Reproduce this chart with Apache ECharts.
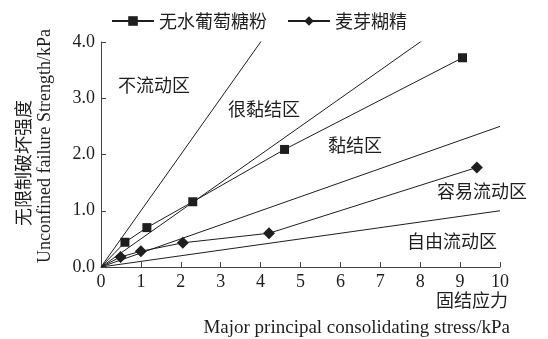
<!DOCTYPE html>
<html>
<head>
<meta charset="utf-8">
<script src="https://cdn.jsdelivr.net/npm/echarts@6/dist/echarts.min.js"></script>
<style>
  html, body { margin: 0; padding: 0; background: #fff; }
  #chart { width: 548px; height: 339px; }
</style>
</head>
<body>
<div id="chart"></div>
<script>
// Consolidating stress (kPa) vs. unconfined failure strength (kPa)
var glucoseName = '无水葡萄糖粉';
var glucoseX = [0, 0.60, 1.15, 2.30, 4.60, 9.06];
var glucoseY = [0, 0.44, 0.70, 1.16, 2.09, 3.72];

var maltoName = '麦芽糊精';
var maltoX = [0, 0.49, 1.00, 2.05, 4.21, 9.42];
var maltoY = [0, 0.18, 0.28, 0.43, 0.60, 1.77];

// Flow-function boundary lines (ff = 1, 2, 4, 10), end points from the origin
var boundaryEndX = [4.08, 8.16, 10, 10];
var boundaryEndY = [4.08, 4.08, 2.5, 1.0];

// Flowability region names
var regionNames = ['不流动区', '很黏结区', '黏结区', '容易流动区', '自由流动区'];

var xTicks = [0, 1, 2, 3, 4, 5, 6, 7, 8, 9, 10];
var yTicks = ['0.0', '1.0', '2.0', '3.0', '4.0'];

// The origin point only anchors the curve, so it gets no marker
function pairs(xs, ys) {
  return xs.map(function (x, i) {
    var item = { value: [x, ys[i]] };
    if (x === 0 && ys[i] === 0) item.symbol = 'none';
    return item;
  });
}

var ink = '#1e1e1e';
var serif = '"Liberation Serif", "DejaVu Serif", serif';
var cjk = '"Noto Sans CJK SC", sans-serif';

var series = [
  {
    name: glucoseName, type: 'line', data: pairs(glucoseX, glucoseY),
    symbol: 'rect', symbolSize: 9, showAllSymbol: true,
    lineStyle: { color: ink, width: 1 }, itemStyle: { color: ink },
    z: 5, animation: false
  },
  {
    name: maltoName, type: 'line', data: pairs(maltoX, maltoY),
    symbol: 'diamond', symbolSize: 12, showAllSymbol: true,
    lineStyle: { color: ink, width: 1 }, itemStyle: { color: ink },
    z: 5, animation: false
  }
];

boundaryEndX.forEach(function (ex, i) {
  series.push({
    type: 'line', data: [[0, 0], [ex, boundaryEndY[i]]],
    symbol: 'none', lineStyle: { color: ink, width: 1 },
    silent: true, animation: false, z: 3
  });
});

// Region label placement (pixels)
var regionPos = [[118, 76], [228, 100], [328, 136], [437, 182], [407, 232]];

var graphics = regionNames.map(function (t, i) {
  return {
    type: 'text', left: regionPos[i][0], top: regionPos[i][1],
    style: { text: t, font: '18px ' + cjk, fill: ink }
  };
});

graphics.push(
  { type: 'text', right: 40, top: 291,
    style: { text: '固结应力', font: '18px ' + cjk, fill: ink } },
  { type: 'text', right: 38, top: 319,
    style: { text: 'Major principal consolidating stress/kPa', font: '19px ' + serif, fill: ink } },
  { type: 'text', x: 14, y: 226, rotation: Math.PI / 2,
    style: { text: '无限制破坏强度', font: '18px ' + cjk, fill: ink } },
  { type: 'text', x: 36, y: 263, rotation: Math.PI / 2,
    style: { text: 'Unconfined failure Strength/kPa', font: '18px ' + serif, fill: ink } }
);

var chart = echarts.init(document.getElementById('chart'), null, { renderer: 'canvas' });
chart.setOption({
  animation: false,
  backgroundColor: '#fff',
  grid: { left: 101, right: 48, top: 42, bottom: 72, containLabel: false },
  legend: {
    data: [glucoseName, maltoName],
    left: 111, top: 12, padding: 0,
    itemWidth: 42, itemHeight: 12, itemGap: 20,
    textStyle: { fontFamily: cjk, fontSize: 18, color: ink }
  },
  xAxis: {
    type: 'value', min: xTicks[0], max: xTicks[xTicks.length - 1], interval: 1,
    axisLine: { lineStyle: { color: '#444', width: 1 } },
    axisTick: { inside: true, length: 5, lineStyle: { color: '#444' } },
    axisLabel: { fontFamily: serif, fontSize: 18, color: ink, margin: 6 },
    splitLine: { show: false }
  },
  yAxis: {
    type: 'value', min: 0, max: 4, interval: 1,
    axisLine: { show: true, lineStyle: { color: '#444', width: 1 } },
    axisTick: { show: true, inside: true, length: 5, lineStyle: { color: '#444' } },
    axisLabel: {
      fontFamily: serif, fontSize: 18, color: ink, margin: 6,
      formatter: function (v) { return yTicks[Math.round(v)]; }
    },
    splitLine: { show: false }
  },
  series: series,
  graphic: graphics
});
</script>
</body>
</html>
